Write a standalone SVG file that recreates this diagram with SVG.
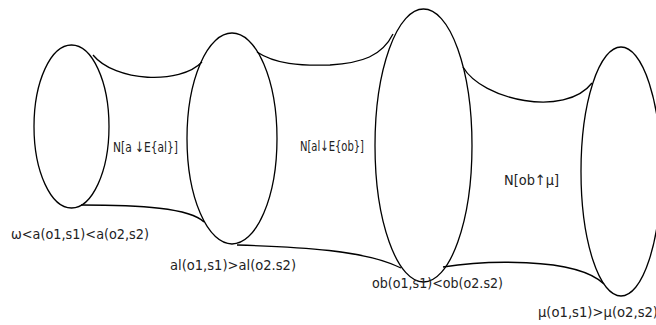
<svg xmlns="http://www.w3.org/2000/svg" width="656" height="325" viewBox="0 0 656 325">
<style>
.e{fill:none;stroke:#000;stroke-width:1.3}
.c{fill:none;stroke:#000;stroke-width:1.3}
text{font-family:"DejaVu Sans Condensed","Liberation Sans",sans-serif;font-size:14.5px;fill:#222}
</style>
<rect width="656" height="325" fill="#fff"/>
<g id="connectors">
<path class="c" d="M93,55 C115,82 180,85 202,62"/>
<path class="c" d="M81,205 C140,205 190,208 204,222"/>
<path class="c" d="M257,52 C275,64 300,66 330,65 C362,63 382,56 393,34"/>
<path class="c" d="M237,245 C300,247 365,250 401,268"/>
<path class="c" d="M463,67 C482,100 565,118 592,83"/>
<path class="c" d="M443,267 C480,261 575,256 604,284"/>
</g>
<g id="n1"><ellipse class="e" cx="71.5" cy="126.5" rx="37.5" ry="81.5"/></g>
<g id="n2"><ellipse class="e" cx="232" cy="138.5" rx="45" ry="105.5"/></g>
<g id="n3"><ellipse class="e" cx="423.5" cy="145.5" rx="48.5" ry="136.5"/></g>
<g id="n4"><ellipse class="e" cx="621" cy="171.5" rx="40" ry="124.5"/></g>
<g id="labels">
<text x="113" y="152" textLength="65" lengthAdjust="spacingAndGlyphs">N[a ↓E{al}]</text>
<text x="300" y="151" textLength="64" lengthAdjust="spacingAndGlyphs">N[al↓E{ob}]</text>
<text x="504" y="185" textLength="55" lengthAdjust="spacingAndGlyphs">N[ob↑μ]</text>
<text x="11" y="239" textLength="138" lengthAdjust="spacingAndGlyphs">ω&lt;a(o1,s1)&lt;a(o2,s2)</text>
<text x="170" y="270" textLength="126" lengthAdjust="spacingAndGlyphs">al(o1,s1)&gt;al(o2.s2)</text>
<text x="372" y="288" textLength="131" lengthAdjust="spacingAndGlyphs">ob(o1,s1)&lt;ob(o2.s2)</text>
<text x="538" y="317" font-size="13" textLength="120" lengthAdjust="spacingAndGlyphs">μ(o1,s1)&gt;μ(o2,s2)</text>
</g>
</svg>
